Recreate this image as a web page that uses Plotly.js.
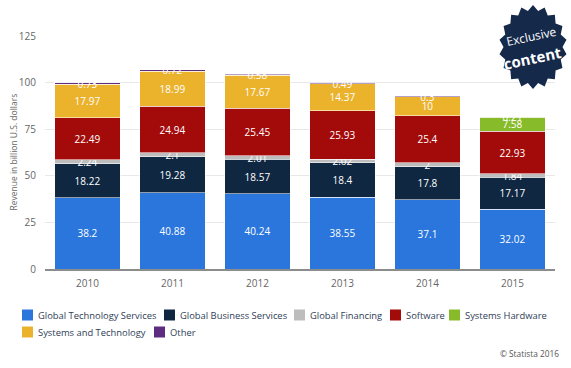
<!DOCTYPE html>
<html>
<head>
<meta charset="utf-8">
<script src="https://cdn.plot.ly/plotly-3.0.1.min.js"></script>
<style>html,body{margin:0;padding:0;background:#fff;}#chart{width:571px;height:368px;}</style>
</head>
<body>
<div id="chart"></div>
<script>
var years = ['2010', '2011', '2012', '2013', '2014', '2015'];
var seriesNames = ['Global Technology Services', 'Global Business Services', 'Global Financing', 'Software', 'Systems Hardware', 'Systems and Technology', 'Other'];
var globalTechnologyServices = [38.2, 40.88, 40.24, 38.55, 37.1, 32.02];
var globalBusinessServices = [18.22, 19.28, 18.57, 18.4, 17.8, 17.17];
var globalFinancing = [2.24, 2.1, 2.01, 2.02, 2, 1.84];
var software = [22.49, 24.94, 25.45, 25.93, 25.4, 22.93];
var systemsHardware = [null, null, null, null, null, 7.58];
var systemsAndTechnology = [17.97, 18.99, 17.67, 14.37, 10, null];
var other = [0.73, 0.72, 0.58, 0.49, 0.3, 0.21];
var yTicks = [0, 25, 50, 75, 100, 125];

var seriesValues = [globalTechnologyServices, globalBusinessServices, globalFinancing, software, systemsHardware, systemsAndTechnology, other];
var colors = ['#2a76dc', '#0f2741', '#bdbdbd', '#a30b0b', '#88bb2a', '#ebb22c', '#5f2d80'];

var L = 45, R = 16, T = 36, B = 99, W = 571, H = 368;
var pw = W - L - R, ph = H - T - B;
function px(x) { return (x - L) / pw; }
function py(y) { return (H - B - y) / ph; }

var traces = seriesValues.map(function (vals, i) {
  return {
    type: 'bar',
    name: seriesNames[i],
    x: years,
    y: vals,
    marker: { color: colors[i], line: { color: 'rgba(255,255,255,0.55)', width: 1 } },
    texttemplate: '%{y}',
    textposition: 'inside',
    insidetextanchor: 'middle',
    textangle: 0,
    textfont: { color: '#ffffff', size: 10, family: 'Open Sans, sans-serif' },
    cliponaxis: false,
    showlegend: false,
    hoverinfo: 'none'
  };
});

var shapes = [];
var annotations = [];

// custom legend (built from series names/colors)
var legendItems = [
  { i: 0, x: 22, y: 315 }, { i: 1, x: 164, y: 315 }, { i: 2, x: 294, y: 315 },
  { i: 3, x: 390, y: 315 }, { i: 4, x: 449, y: 315 },
  { i: 5, x: 22, y: 332 }, { i: 6, x: 154, y: 332 }
];
legendItems.forEach(function (it) {
  shapes.push({
    type: 'rect', xref: 'paper', yref: 'paper',
    x0: px(it.x), x1: px(it.x + 11), y0: py(it.y + 5.5), y1: py(it.y - 5.5),
    fillcolor: colors[it.i], line: { width: 0 }
  });
  annotations.push({
    xref: 'paper', yref: 'paper', x: px(it.x + 13.5), y: py(it.y),
    xanchor: 'left', yanchor: 'middle', showarrow: false,
    text: seriesNames[it.i],
    font: { size: 9.4, color: '#2f4057', family: 'Open Sans, sans-serif' }
  });
});

annotations.push({
  xref: 'paper', yref: 'paper', x: px(561), y: py(353), xanchor: 'right', yanchor: 'middle',
  showarrow: false, text: '© Statista 2016',
  font: { size: 8.3, color: '#555555', family: 'Open Sans, sans-serif' }
});

annotations.push({
  xref: 'paper', yref: 'paper', x: px(13), y: 0.5, xanchor: 'center', yanchor: 'middle',
  showarrow: false, textangle: -90, text: 'Revenue in billion U.S. dollars',
  font: { size: 8.5, color: '#666666', family: 'Open Sans, sans-serif' }
});

// "Exclusive content" badge
var cx = 533, cy = 47, n = 18, rxo = 34, ryo = 42, rxi = 29.5, ryi = 36.5;
var pth = '';
for (var k = 0; k < 2 * n; k++) {
  var a = -Math.PI / 2 + k * Math.PI / n;
  var outer = (k % 2 === 0);
  var X = cx + (outer ? rxo : rxi) * Math.cos(a);
  var Y = cy + (outer ? ryo : ryi) * Math.sin(a);
  pth += (k === 0 ? 'M' : 'L') + px(X).toFixed(5) + ',' + py(Y).toFixed(5);
}
pth += 'Z';
shapes.push({ type: 'path', xref: 'paper', yref: 'paper', path: pth, fillcolor: '#15294a', line: { width: 0 }, layer: 'above' });
annotations.push({
  xref: 'paper', yref: 'paper', x: px(531), y: py(37), xanchor: 'center', yanchor: 'middle',
  showarrow: false, text: 'Exclusive', textangle: -12,
  font: { size: 12, color: '#ffffff', family: 'Open Sans, sans-serif' }
});
annotations.push({
  xref: 'paper', yref: 'paper', x: px(532), y: py(58), xanchor: 'center', yanchor: 'middle',
  showarrow: false, text: '<b>content</b>', textangle: -12,
  font: { size: 15, color: '#ffffff', family: 'Open Sans, sans-serif' }
});

var layout = {
  width: W, height: H,
  margin: { l: L, r: R, t: T, b: B, pad: 0 },
  paper_bgcolor: '#ffffff', plot_bgcolor: '#ffffff',
  barmode: 'stack',
  bargap: 0.235,
  showlegend: false,
  uniformtext: { mode: 'show', minsize: 10 },
  font: { family: 'Open Sans, sans-serif', color: '#666666' },
  xaxis: {
    type: 'category',
    showgrid: false,
    showline: true, linecolor: '#8c8c8c', linewidth: 2,
    ticks: '', ticklabelstandoff: 4,
    tickfont: { size: 10, color: '#666666' },
    fixedrange: true
  },
  yaxis: {
    range: [0, 125],
    tickvals: yTicks,
    ticktext: yTicks.map(String),
    showgrid: true, gridcolor: '#e8e8e8', gridwidth: 1,
    zeroline: false, showline: false,
    ticks: '', ticklabelstandoff: 8,
    tickfont: { size: 10, color: '#666666' },
    fixedrange: true
  },
  shapes: shapes,
  annotations: annotations
};

Plotly.newPlot('chart', traces, layout, { displayModeBar: false, staticPlot: true });
</script>
</body>
</html>
